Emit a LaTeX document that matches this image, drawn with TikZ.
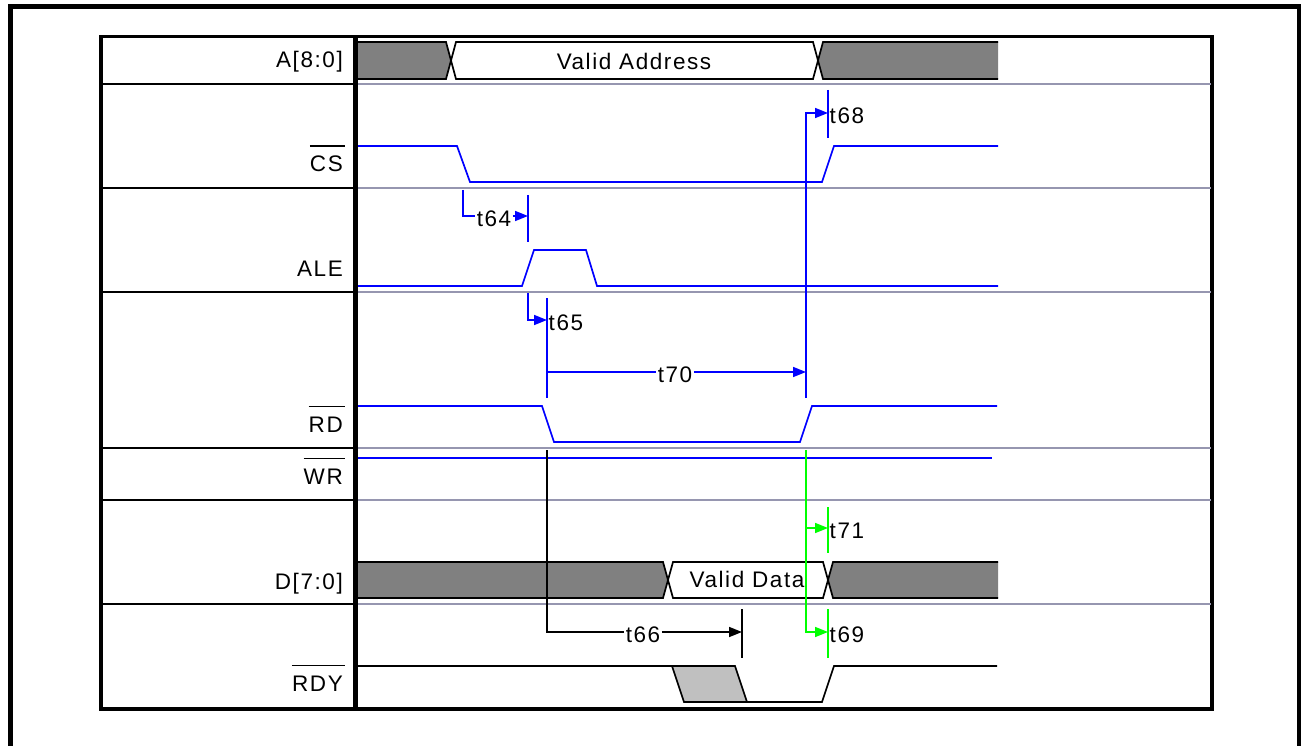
\documentclass[tikz,border=0pt]{standalone}
\usepackage{fontspec}
\setmainfont{Liberation Sans}[LetterSpace=7]
\usepackage{tikz}
\usetikzlibrary{arrows.meta}

\definecolor{sepgray}{RGB}{150,150,176}
\definecolor{busgray}{RGB}{128,128,128}
\definecolor{undefgray}{RGB}{192,192,192}
\definecolor{tgreen}{RGB}{0,255,0}

\begin{document}
\begin{tikzpicture}[x=1pt, y=-1pt,
    every node/.style={font=\fontsize{22.5}{26}\selectfont},
    sig/.style={line width=1.7pt},
    bus/.style={line width=1.7pt, fill=busgray},
    valid/.style={line width=1.7pt, fill=white},
    lbl/.style={anchor=base east, inner sep=0pt},
    tlbl/.style={fill=white, inner sep=1.5pt, yshift=-3pt},
    rlbl/.style={anchor=west, inner sep=1.5pt, yshift=-3pt},
    tarr/.style={line width=1.7pt, -{Triangle[length=13pt,width=10pt]}},
    ovl/.style={line width=1.6pt}]
        \useasboundingbox (0,0) rectangle (1301,746);

        % Outer frame
        \draw[line width=5pt] (10,746) -- (10,6.5) -- (1299,6.5) -- (1299,746);

        % Table
        \draw[line width=3.5pt] (101,36.5) rectangle (1212,709);
        \foreach \y in {84,188,292,448,500,604} {
            \draw[line width=2.5pt] (101,\y) -- (355,\y);
            \draw[sepgray, line width=2pt] (355,\y) -- (1211,\y);
        }
        \draw[line width=5pt] (355,36.5) -- (355,709);

        % Signal names
        \node[lbl] (addr) at (343,68) {A[8:0]};
        \node[lbl] (cs) at (343,172) {CS};
        \node[lbl] (ale) at (343,276) {ALE};
        \node[lbl] (rd) at (343,432) {RD};
        \node[lbl] (wr) at (343,484) {WR};
        \node[lbl] (data) at (343,589) {D[7:0]};
        \node[lbl] (rdy) at (343,691) {RDY};
        \foreach \n in {cs,rd,wr,rdy} {
            \draw[ovl] ([yshift=10pt]\n.north west) -- ([xshift=2pt,yshift=10pt]\n.north east);
        }

        % A[8:0]
        \draw[bus] (358,42) -- (446,42) -- (451,60.5) -- (446,79) -- (358,79);
        \draw[valid] (451,60.5) -- (456,42) -- (813,42) -- (818,60.5) -- (813,79) -- (456,79) -- cycle;
        \draw[bus] (998,42) -- (823,42) -- (818,60.5) -- (823,79) -- (998,79);
        \node[anchor=base] (vaddr) at (634,70) {Valid Address};

        % CS, ALE, RD, WR
        \draw[sig, blue] (358,146) -- (457,146) -- (470,182) -- (822,182) -- (834,146) -- (998,146);
        \draw[sig, blue] (358,286) -- (522,286) -- (534,250) -- (586,250) -- (597,286) -- (998,286);
        \draw[sig, blue] (358,406) -- (542,406) -- (554,442) -- (800,442) -- (812,406) -- (997,406);
        \draw[sig, blue] (358,458) -- (992,458);

        % D[7:0]
        \draw[bus] (358,562) -- (663,562) -- (668,580) -- (663,598) -- (358,598);
        \draw[valid] (668,580) -- (673,562) -- (823,562) -- (828,580) -- (823,598) -- (673,598) -- cycle;
        \draw[bus] (998,562) -- (833,562) -- (828,580) -- (833,598) -- (998,598);
        \node[anchor=base] (vdata) at (747,587) {Valid Data};

        % RDY
        \draw[sig, fill=undefgray] (672,666) -- (735,666) -- (747,702) -- (684,702) -- cycle;
        \draw[sig] (358,666) -- (735,666);
        \draw[sig] (684,702) -- (822,702) -- (834,666) -- (997,666);

        % t64
        \coordinate (cs fall) at (463,190);
        \coordinate (t64 end) at (528,216);
        \node[tlbl] (t64) at (494,216) {t64};
        \draw[sig, blue] (cs fall) |- (t64.west |- t64 end);
        \draw[tarr, blue] (t64.east |- t64 end) -- (t64 end);
        \draw[sig, blue] (t64 end) ++(0,-21) -- ++(0,47);

        % t65
        \coordinate (ale rise) at (528,293);
        \coordinate (t65 end) at (547,320);
        \draw[tarr, blue] (ale rise) |- (t65 end);
        \draw[sig, blue] (t65 end) ++(0,-22) -- ++(0,100);
        \node[rlbl] (t65) at (t65 end) {t65};

        % t70 and t68
        \coordinate (t70 start) at (547,372);
        \coordinate (t70 end) at (806,372);
        \coordinate (rd rise top) at (806,398);
        \coordinate (t68 end) at (828,113);
        \node[tlbl] (t70) at (675,372) {t70};
        \draw[sig, blue] (t70 start) -- (t70.west |- t70 start);
        \draw[tarr, blue] (t70.east |- t70 end) -- (t70 end);
        \draw[tarr, blue] (rd rise top) |- (t68 end);
        \draw[sig, blue] (t68 end) ++(0,-23) -- ++(0,48);
        \node[rlbl] (t68) at (t68 end) {t68};

        % t66
        \coordinate (rd fall) at (547,450);
        \coordinate (t66 end) at (742,632);
        \node[tlbl] (t66) at (643,632) {t66};
        \draw[sig] (rd fall) |- (t66.west |- t66 end);
        \draw[tarr] (t66.east |- t66 end) -- (t66 end);
        \draw[sig] (t66 end) ++(0,-23) -- ++(0,49);

        % t71 and t69
        \coordinate (rd rise) at (806,450);
        \coordinate (t71 end) at (828,528);
        \coordinate (t69 end) at (828,632);
        \draw[tarr, tgreen] (rd rise) |- (t69 end);
        \draw[tarr, tgreen] (rd rise |- t71 end) -- (t71 end);
        \draw[sig, tgreen] (t71 end) ++(0,-21) -- ++(0,46);
        \draw[sig, tgreen] (t69 end) ++(0,-23) -- ++(0,49);
        \node[rlbl] (t71) at (t71 end) {t71};
        \node[rlbl] (t69) at (t69 end) {t69};
    \end{tikzpicture}
\end{document}
